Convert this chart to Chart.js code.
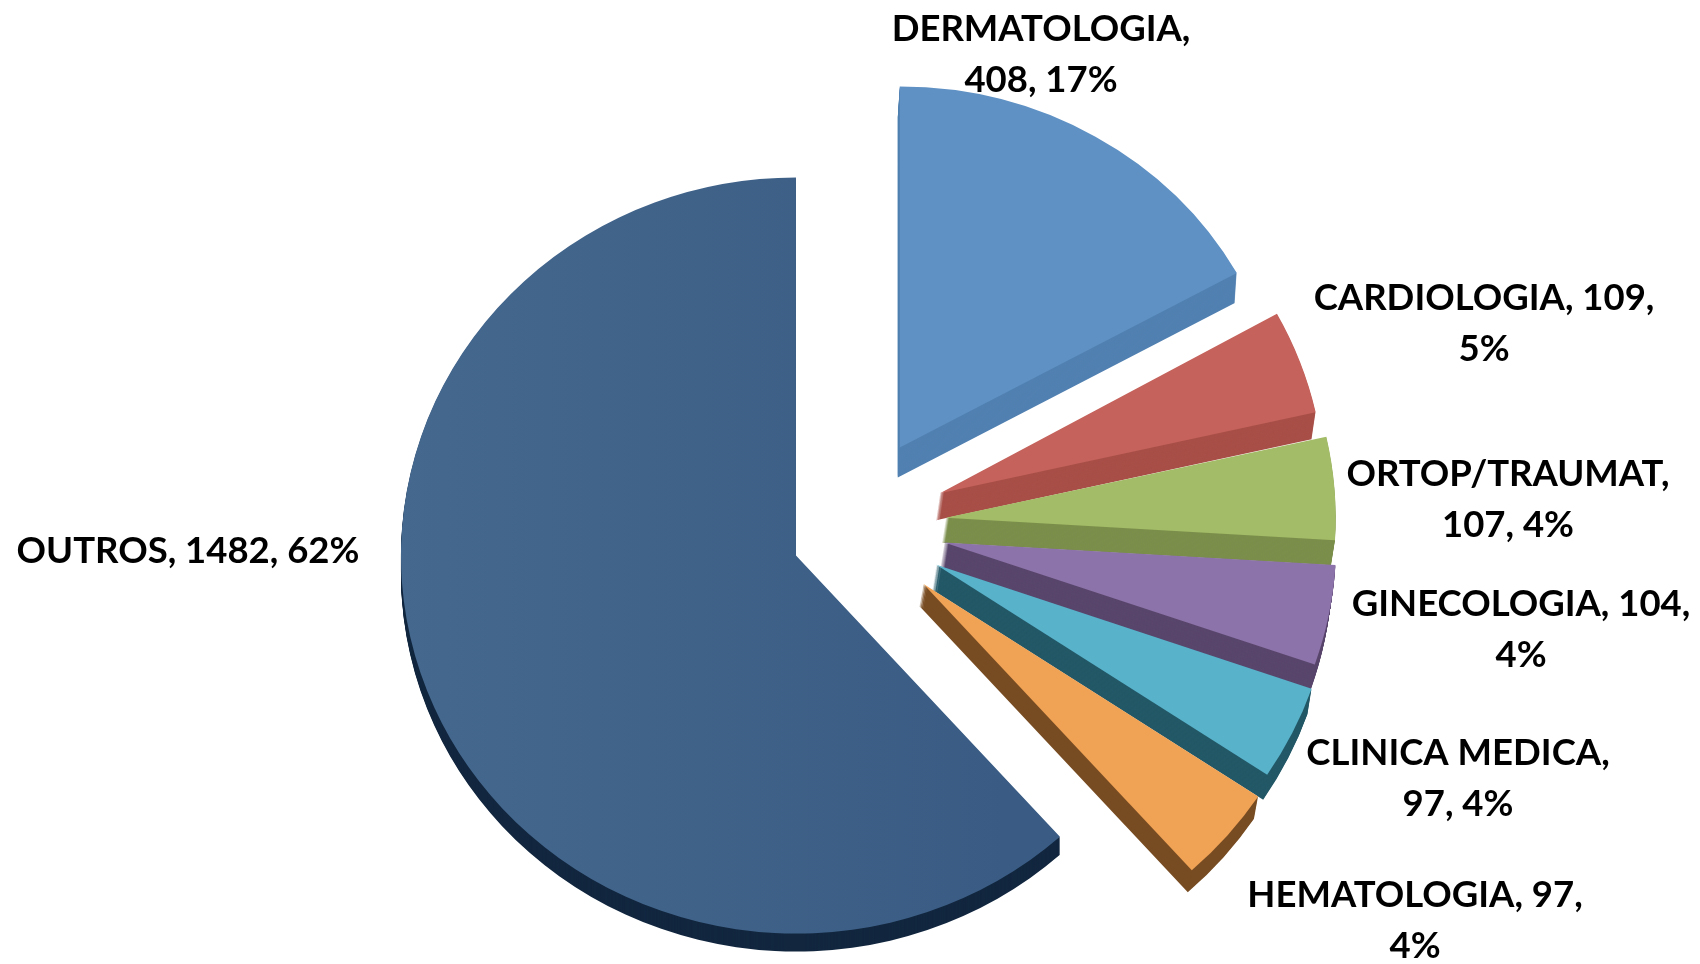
<!DOCTYPE html>
<html lang="pt">
<head>
<meta charset="utf-8">
<title>Especialidades</title>
<style>
  html, body { margin: 0; padding: 0; background: #fff; }
  #wrap { width: 1700px; height: 964px; }
</style>
</head>
<body>
<div id="wrap"><canvas id="pieChart" width="1700" height="964"></canvas></div>
<script src="https://cdn.jsdelivr.net/npm/chart.js@4/dist/chart.umd.min.js"></script>
<script>
'use strict';

/* ============================================================
   DATA
   ============================================================ */
const categories = ['DERMATOLOGIA', 'CARDIOLOGIA', 'ORTOP/TRAUMAT', 'GINECOLOGIA', 'CLINICA MEDICA', 'HEMATOLOGIA', 'OUTROS'];
const values     = [408, 109, 107, 104, 97, 97, 1482];
const percents   = [17, 5, 4, 4, 4, 4, 62];

/* ============================================================
   STYLE – per slice look (Excel 3D pie, faked with a plugin)
   ============================================================ */
const topColors   = ['#5f91c4', '#c4625b', '#a3bc67', '#8c73a9', '#58b2ca', '#f0a255', '#42668f'];
const wallColors  = ['#5180b1', '#a84f48', '#7b8e4b', '#59466c', '#235867', '#784c22', '#12273f'];
const explode     = [94, 94, 94, 94, 94, 94, 60];   /* px the slice moves out */
const radiusX     = [385, 385, 390, 392, 397, 402, 395];
const radiusY     = [361, 371, 372, 374, 380, 385, 378];
const wallDx      = [-2, -4, -4, -4, -4, -4, 0];
const wallDy      = [30, 27, 25, 25, 25, 22, 18];
const nudgeY      = [0, 0, 0, 0, 0, 0, 10];
const TILT        = 0.957;

/* label text lines go where the wrapped lines sit in the picture */
const labelSplit  = [1, 2, 1, 2, 1, 2, 3];   /* parts of the label on line one */
const labelX      = [1041, 1484, 1508, 1521, 1458, 1415, 188];
const labelY      = [29, 298, 474, 604, 753, 895, 551];
const LINE_HEIGHT = 51;

function labelLines(i) {
  const parts = [categories[i] + ',', values[i] + ',', percents[i] + '%'];
  const first = parts.slice(0, labelSplit[i]).join(' ');
  const rest  = parts.slice(labelSplit[i]).join(' ');
  return rest ? [first, rest] : [first];
}

/* ============================================================
   PLUGIN – labels under the pie, exploded slices with side walls
   ============================================================ */
const pie3d = {
  id: 'pie3d',

  beforeDatasetsDraw(chart) {
    const ctx = chart.ctx;
    ctx.save();
    ctx.font = 'bold 36.5px Lato, "Liberation Sans", sans-serif';
    ctx.fillStyle = '#000';
    ctx.textAlign = 'center';
    ctx.textBaseline = 'middle';
    categories.forEach(function (_, i) {
      labelLines(i).forEach(function (line, n) {
        ctx.fillText(line, labelX[i], labelY[i] + n * LINE_HEIGHT);
      });
    });
    ctx.restore();
  },

  beforeDatasetDraw(chart, args) {
    const ctx = chart.ctx;
    args.meta.data.forEach(function (arc, i) {
      const opts = arc.options;
      const mid  = (arc.startAngle + arc.endAngle) / 2;
      const sx   = radiusX[i] / arc.outerRadius;
      const sy   = radiusY[i] / arc.outerRadius;

      /* slice tip after exploding along its mid angle */
      const ax = arc.x + Math.cos(mid) * explode[i];
      const ay = arc.y + Math.sin(mid) * explode[i] * TILT + nudgeY[i];

      function paint(dx, dy) {
        ctx.save();
        ctx.translate(ax + dx, ay + dy);
        ctx.scale(sx, sy);
        ctx.translate(-arc.x, -arc.y);
        arc.draw(ctx);
        ctx.restore();
      }

      /* side wall: same arc swept down in the dark colour */
      const wallOpts = Object.create(opts);
      wallOpts.backgroundColor = wallColors[i];
      arc.options = wallOpts;
      const steps = Math.abs(wallDy[i]);
      for (let k = steps; k >= 1; k--) {
        paint(wallDx[i] * k / steps, wallDy[i] * k / steps);
      }
      arc.options = opts;

      paint(0, 0);
    });
    return false;
  }
};

/* ============================================================
   CHART
   ============================================================ */
function initPie() {
  const canvas = document.getElementById('pieChart');
  const ctx = canvas.getContext('2d');

  /* Outros fades a little darker to the right */
  const outrosFill = ctx.createLinearGradient(400, 0, 1060, 0);
  outrosFill.addColorStop(0, '#46698f');
  outrosFill.addColorStop(1, '#3a5c84');
  const fills = topColors.slice();
  fills[6] = outrosFill;

  new Chart(canvas, {
    type: 'pie',
    data: {
      labels: categories,
      datasets: [{
        data           : values,
        backgroundColor: fills,
        borderWidth    : 0
      }]
    },
    options: {
      responsive: false,
      animation : false,
      radius    : 392,
      layout    : { padding: { left: 4, top: 86 } },
      plugins   : { legend: { display: false }, tooltip: { enabled: false } }
    },
    plugins: [pie3d]
  });
}

document.addEventListener('DOMContentLoaded', initPie);
</script>
</body>
</html>
